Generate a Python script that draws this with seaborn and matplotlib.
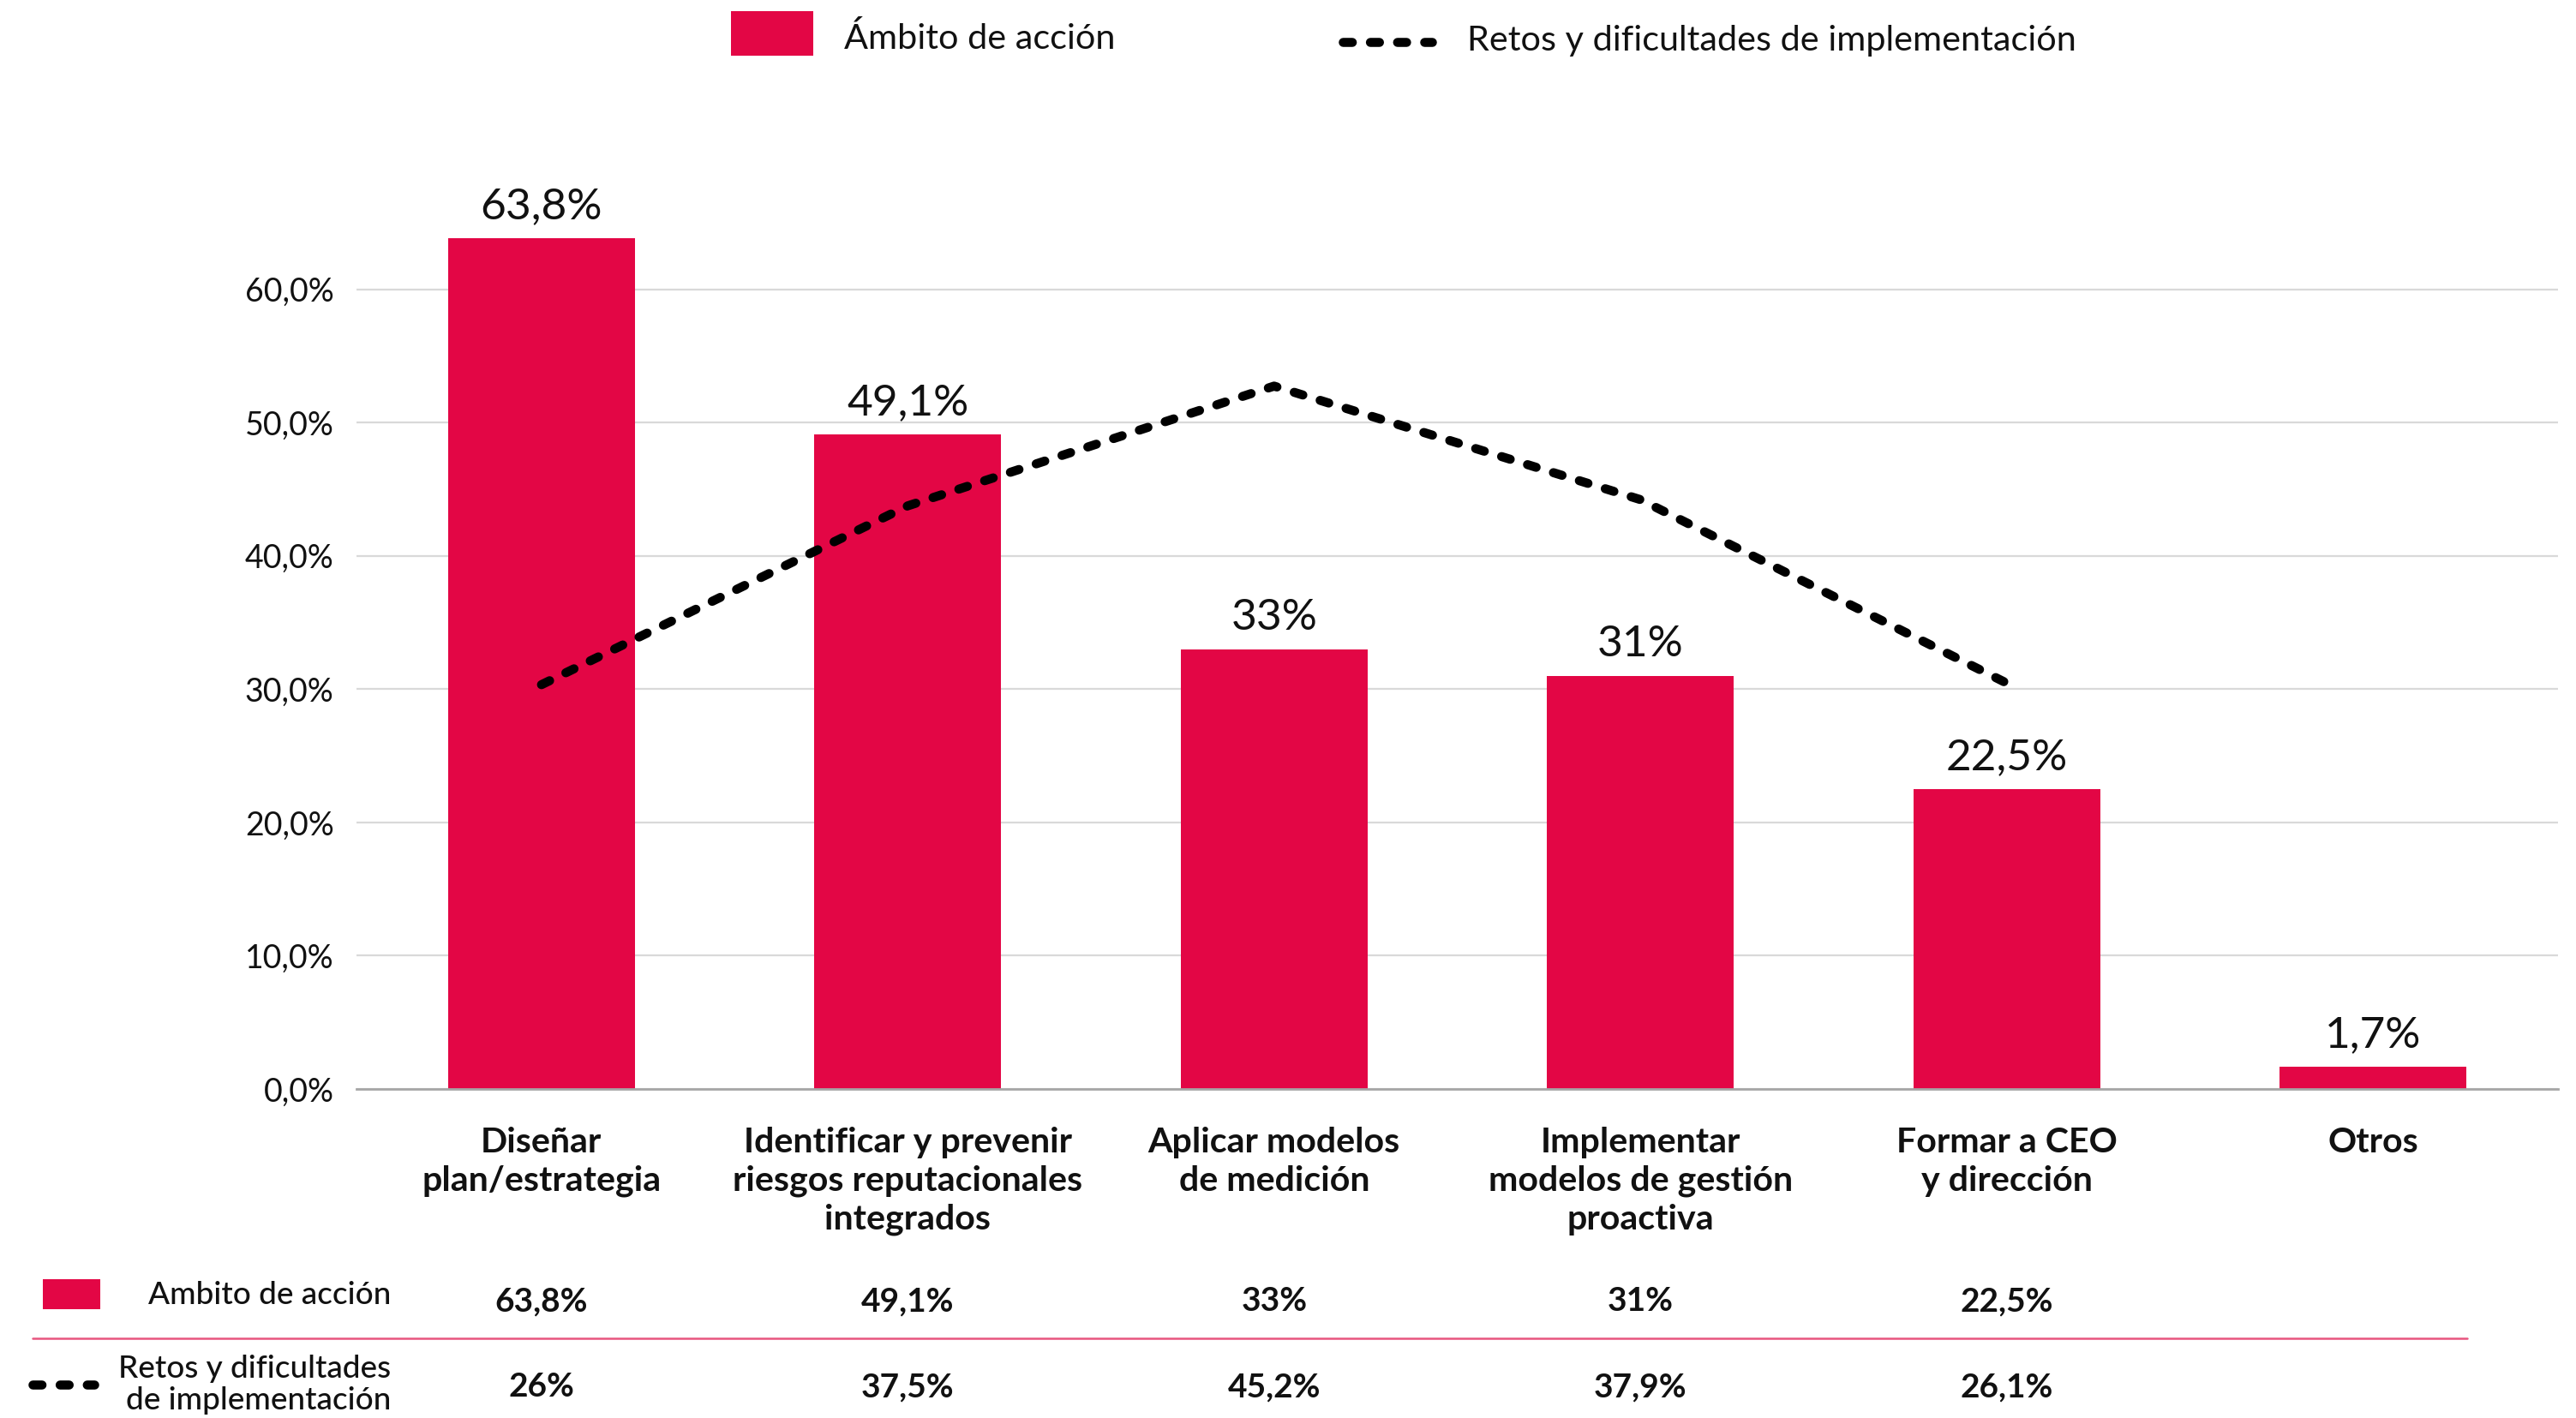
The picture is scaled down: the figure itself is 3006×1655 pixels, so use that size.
import numpy as np
import pandas as pd
import matplotlib
matplotlib.use("Agg")
import matplotlib.pyplot as plt
import matplotlib.transforms as mtransforms
from matplotlib.patches import Rectangle
from matplotlib.lines import Line2D
import seaborn as sns

# ---- data -------------------------------------------------------------
categories = [
    "Diseñar\nplan/estrategia",
    "Identificar y prevenir\nriesgos reputacionales\nintegrados",
    "Aplicar modelos\nde medición",
    "Implementar\nmodelos de gestión\nproactiva",
    "Formar a CEO\ny dirección",
    "Otros",
]
ambito_values = [63.8, 49.1, 33.0, 31.0, 22.5, 1.7]
retos_values = [26.0, 37.5, 45.2, 37.9, 26.1]
y_ticks = [0, 10, 20, 30, 40, 50, 60]
series_names = ["Ámbito de acción", "Retos y dificultades de implementación"]
table_names = ["Ambito de acción", "Retos y dificultades\nde implementación"]

RED = "#E30645"
INK = "#111111"
W, H, DPI = 3006, 1655, 200
LW = 3.8
DOT = (0, (1.0, 2.0))


def pct(v):
    return f"{v:g}".replace(".", ",") + "%"


def pct1(v):
    return f"{v:.1f}".replace(".", ",") + "%"


def dotted(xs, ys, transform):
    ln = Line2D(xs, ys, transform=transform, color="black", lw=LW, linestyle=DOT)
    ln.set_dash_capstyle("round")
    return ln


sns.set_theme(style="white")
plt.rcParams["font.family"] = ["Lato", "DejaVu Sans"]

fig = plt.figure(figsize=(W / DPI, H / DPI), dpi=DPI, facecolor="white")
ax = fig.add_axes([416 / W, 1 - 1271 / H, (2985 - 416) / W, (1271 - 182) / H])

# ---- bars ---------------------------------------------------------------
df = pd.DataFrame({"categoria": categories, "valor": ambito_values})
sns.barplot(data=df, x="categoria", y="valor", color=RED, saturation=1,
            width=0.51, linewidth=0, ax=ax)
ax.bar_label(ax.containers[0], labels=[pct(v) for v in ambito_values],
             padding=5, fontsize=18.5, color=INK)

ax.set_xlim(-0.505, 5.505)
ax.set_ylim(0, 70)
ax.set_yticks(y_ticks)
ax.set_yticklabels([pct1(v) for v in y_ticks])
ax.set_xlabel("")
ax.set_ylabel("")
ax.yaxis.grid(True, color="#D9D9D9", lw=0.8)
ax.set_axisbelow(True)
for side in ["top", "left", "right"]:
    ax.spines[side].set_visible(False)
ax.spines["bottom"].set_color("#A6A6A6")
ax.spines["bottom"].set_linewidth(1.0)
ax.tick_params(axis="y", length=0, pad=9.5, labelsize=13.5, labelcolor=INK)
ax.tick_params(axis="x", length=0, pad=16, labelsize=14.8, labelcolor=INK)
for lbl in ax.get_xticklabels():
    lbl.set_fontweight("bold")
    lbl.set_linespacing(1.25)

# ---- dotted line on a hidden secondary scale -----------------------------
ax2 = ax.twinx()
sns.lineplot(x=np.arange(len(retos_values)), y=retos_values, ax=ax2,
             color="black", lw=LW)
ax2.set_ylim(0, 60)
ax2.set_xlim(-0.505, 5.505)
ax2.set_axis_off()
for ln in ax2.lines:
    ln.set_linestyle(DOT)
    ln.set_dash_capstyle("round")

# ---- top legend ----------------------------------------------------------
fig.add_artist(Rectangle((853 / W, 1 - 65 / H), 96 / W, 52 / H,
                         transform=fig.transFigure, color=RED, lw=0))
fig.text(985 / W, 1 - 57 / H, series_names[0], fontsize=14.9, va="baseline",
         color=INK)
fig.add_artist(dotted([1567 / W, 1671 / W], [1 - 48.5 / H] * 2, fig.transFigure))
fig.text(1712 / W, 1 - 59 / H, series_names[1], fontsize=14.9, va="baseline",
         color=INK)

# ---- data table under the chart ------------------------------------------
blend = mtransforms.blended_transform_factory(ax.transData, fig.transFigure)
row_y = [1 - 1519 / H, 1 - 1619 / H]

fig.add_artist(Rectangle((50 / W, 1 - 1528 / H), 67 / W, 35 / H,
                         transform=fig.transFigure, color=RED, lw=0))
fig.text(456 / W, 1 - 1511 / H, table_names[0], fontsize=13.3, ha="right",
         va="center", color=INK, fontweight="medium")
fig.add_artist(dotted([38 / W, 110 / W], [1 - 1616 / H] * 2, fig.transFigure))
fig.text(456 / W, 1 - 1616 / H, table_names[1], fontsize=13.3, ha="right",
         va="center", color=INK, fontweight="medium", linespacing=1.15)

fig.add_artist(Line2D([38 / W, 2879 / W], [1 - 1562 / H] * 2,
                      transform=fig.transFigure, color="#E8557F", lw=0.9))

for i in range(len(retos_values)):
    fig.text(i, row_y[0], pct(ambito_values[i]), transform=blend, ha="center",
             va="center", fontsize=14, fontweight="bold", color=INK)
    fig.text(i, row_y[1], pct(retos_values[i]), transform=blend, ha="center",
             va="center", fontsize=14, fontweight="bold", color=INK)

fig.savefig("out.png", dpi=DPI, facecolor="white")
